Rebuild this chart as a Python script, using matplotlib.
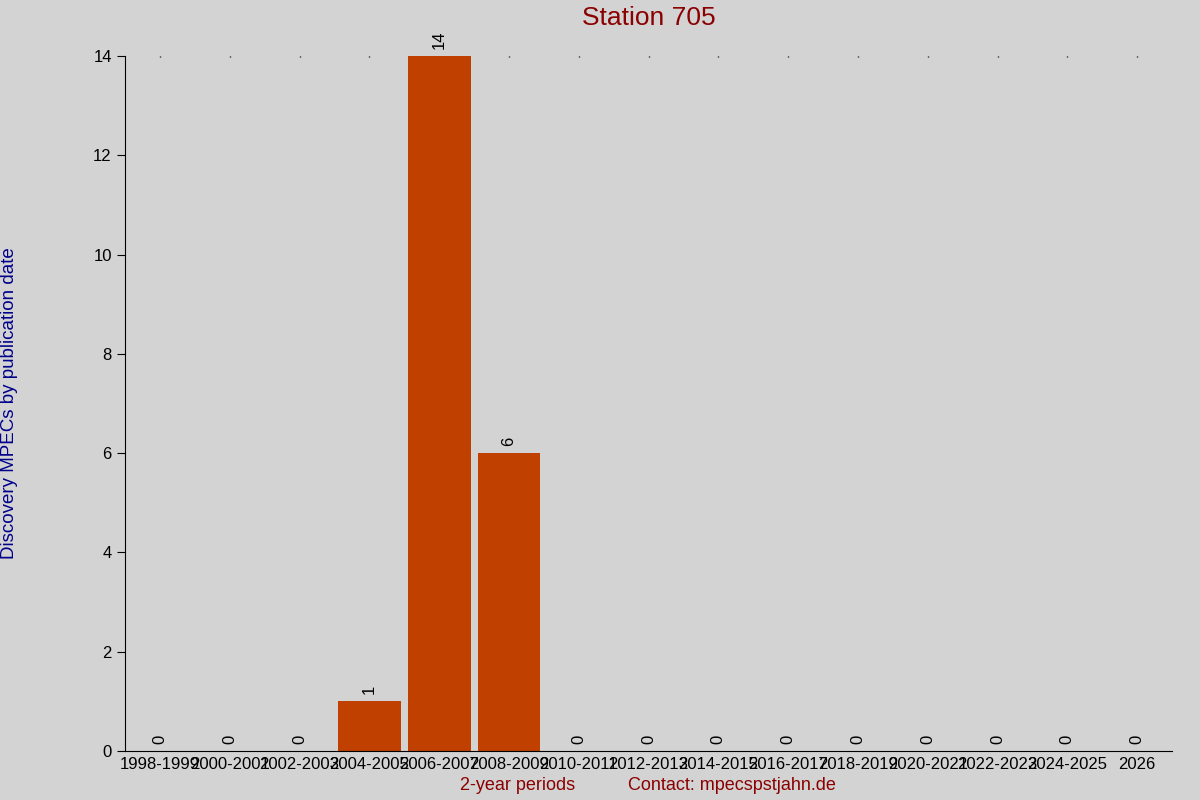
import numpy as np
import matplotlib.pyplot as plt

plt.rcParams['font.family'] = ['Liberation Sans', 'DejaVu Sans']

periods = ['1998-1999', '2000-2001', '2002-2003', '2004-2005', '2006-2007',
           '2008-2009', '2010-2011', '2012-2013', '2014-2015', '2016-2017',
           '2018-2019', '2020-2021', '2022-2023', '2024-2025', '2026']
counts = [0, 0, 0, 1, 14, 6, 0, 0, 0, 0, 0, 0, 0, 0, 0]

bg = '#d3d3d3'
fig = plt.figure(figsize=(12, 8), dpi=100, facecolor=bg)
ax = fig.add_axes([0.1042, 0.06125, 0.8725, 0.86875], facecolor=bg)
ax.set_axisbelow(True)

x = np.arange(len(periods))
ax.bar(x, counts, width=0.9, color='#c04000')
for xi, c in zip(x, counts):
    ax.annotate(str(c), (xi, c), xytext=(0, 5), textcoords='offset points',
                rotation=90, ha='center', va='bottom', fontsize=12)

ax.set_xlim(-0.5, len(periods) - 0.5)
ax.set_ylim(0, 14)
ax.set_yticks(range(0, 15, 2))
ax.set_xticks(x)
ax.set_xticklabels(periods, fontsize=12)
ax.tick_params(axis='x', bottom=False, top=True, direction='in', length=1, width=1, pad=4)
ax.tick_params(axis='y', direction='out', length=6, labelsize=12)
for s in ['top', 'right']:
    ax.spines[s].set_visible(False)

fig.text(0.5404, 0.9775, 'Station 705', ha='center', va='center', color='#8b0000', fontsize=19)
fig.text(0.0083, 0.496, 'Discovery MPECs by publication date', rotation=90,
         ha='center', va='center', color='#00008b', fontsize=13.5)
fig.text(0.431, 0.0175, '2-year periods', ha='center', va='center', color='#8b0000', fontsize=13)
fig.text(0.61, 0.0175, 'Contact: mpecspstjahn.de', ha='center', va='center', color='#8b0000', fontsize=13)

fig.savefig('out.png', dpi=100, facecolor=bg)
